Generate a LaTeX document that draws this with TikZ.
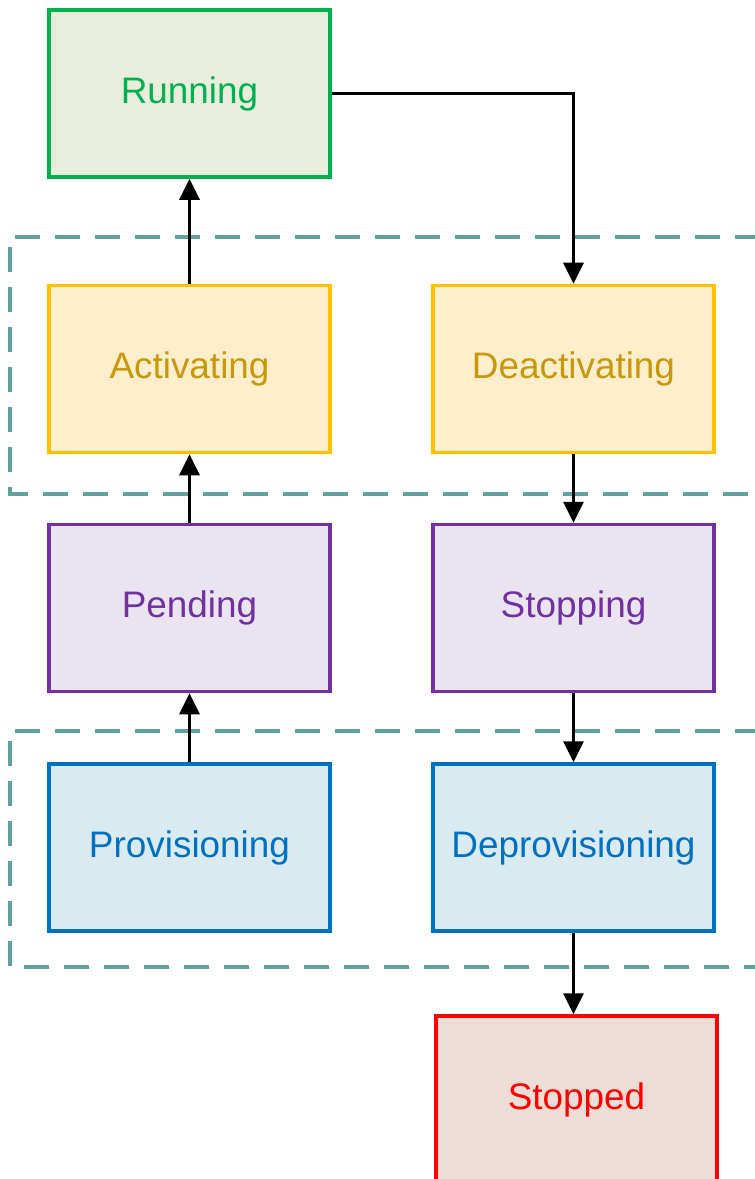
\documentclass[tikz,border=0pt]{standalone}
\usepackage{fontspec}
\setmainfont{Liberation Sans}
\usepackage{xcolor}
\usetikzlibrary{arrows.meta}

\definecolor{runline}{HTML}{00B050}
\definecolor{runfill}{HTML}{E9EEDC}
\definecolor{actline}{HTML}{FFC000}
\definecolor{actfill}{HTML}{FFEECB}
\definecolor{acttext}{HTML}{C9970A}
\definecolor{penline}{HTML}{7030A0}
\definecolor{penfill}{HTML}{EAE4F0}
\definecolor{provline}{HTML}{0070C0}
\definecolor{provfill}{HTML}{D9EAF1}
\definecolor{stopline}{HTML}{FF0000}
\definecolor{stopfill}{HTML}{EEDCD7}
\definecolor{groupline}{HTML}{5FA3A0}

\tikzset{
    state/.style={draw, line width=2pt, minimum width=5.62cm, minimum height=3.34cm,
        inner sep=0pt, font=\fontsize{21}{25}\selectfont},
    running/.style={state, draw=runline, fill=runfill, text=runline},
    phase/.style={state, draw=actline, fill=actfill, text=acttext},
    waiting/.style={state, draw=penline, fill=penfill, text=penline},
    infra/.style={state, draw=provline, fill=provfill, text=provline},
    halted/.style={state, draw=stopline, fill=stopfill, text=stopline},
    group/.style={draw=groupline, line width=1.9pt, dash pattern=on 0.5cm off 0.3cm},
    flow/.style={line width=1.7pt, -{Triangle[length=0.42cm, width=0.4cm]}}
}

\begin{document}
\begin{tikzpicture}
    \useasboundingbox (0,0) rectangle (15.1,-23.58);

    \draw[group] (16,-4.74) -- (0.2,-4.74) -- (0.2,-9.88) -- (16,-9.88);
    \draw[group] (16,-14.62) -- (0.2,-14.62) -- (0.2,-19.34) -- (16,-19.34);

    \node[running] (running) at (3.79,-1.87) {Running};

    \node[phase] (activating) at (3.79,-7.38) {Activating};
    \node[phase] (deactivating) at (11.47,-7.38) {Deactivating};

    \node[waiting] (pending) at (3.79,-12.16) {Pending};
    \node[waiting] (stopping) at (11.47,-12.16) {Stopping};

    \node[infra] (provisioning) at (3.79,-16.95) {Provisioning};
    \node[infra] (deprovisioning) at (11.47,-16.95) {Deprovisioning};

    \node[halted] (stopped) at (11.53,-21.99) {Stopped};

    \draw[flow] (provisioning) -- (pending);
    \draw[flow] (pending) -- (activating);
    \draw[flow] (activating) -- (running);
    \draw[flow] (running.east) -| (deactivating.north);
    \draw[flow] (deactivating) -- (stopping);
    \draw[flow] (stopping) -- (deprovisioning);
    \draw[flow] (deprovisioning.south) -- (deprovisioning.south |- stopped.north);

\end{tikzpicture}
\end{document}
